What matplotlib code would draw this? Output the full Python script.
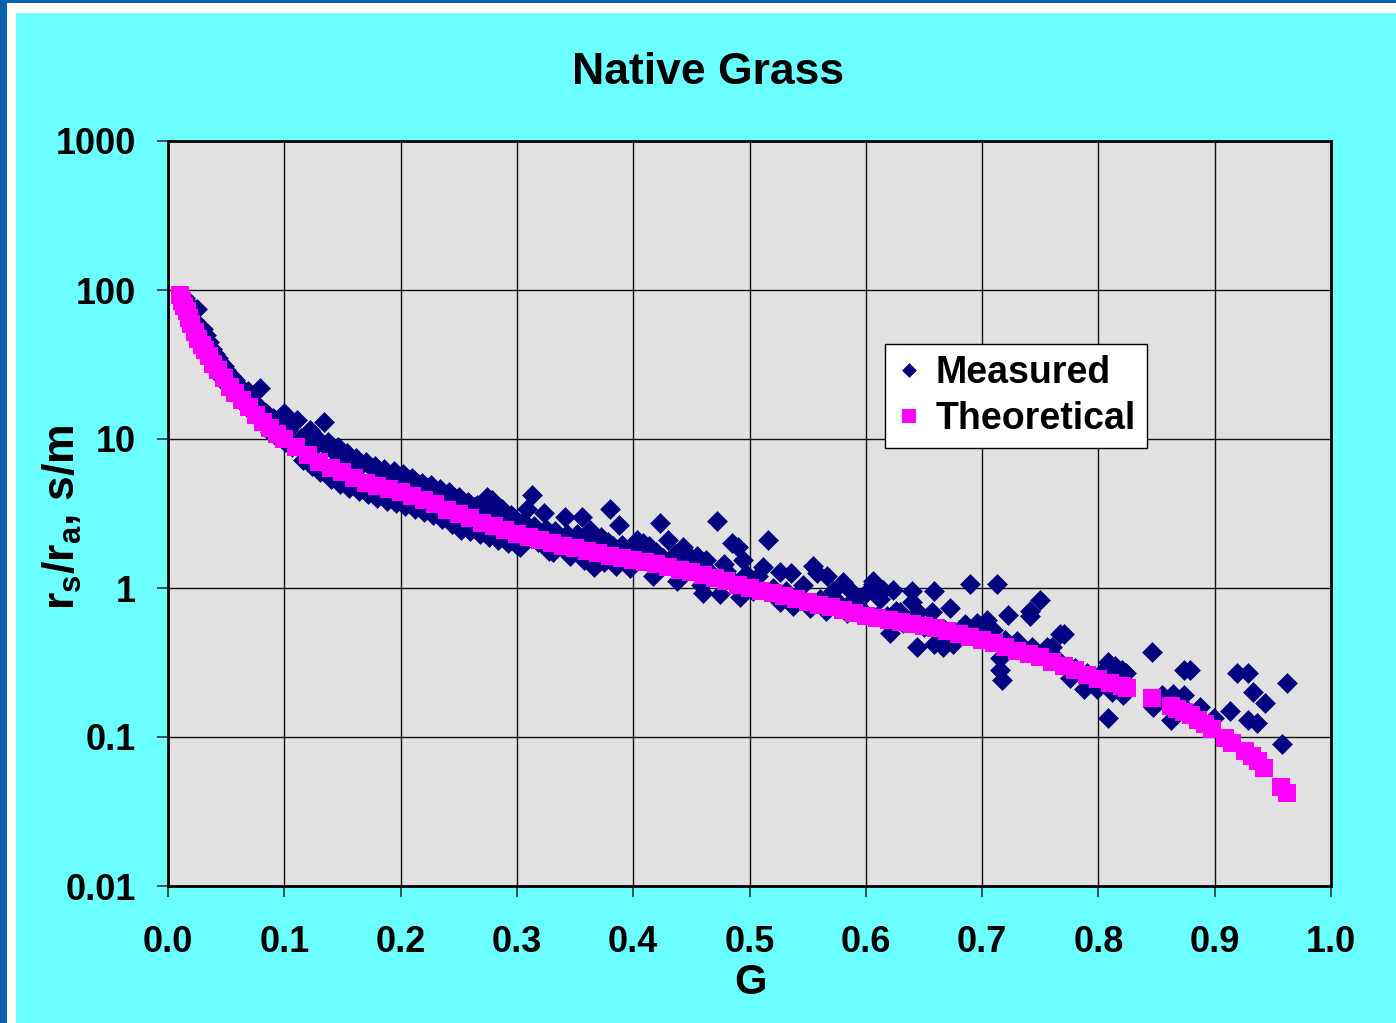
import matplotlib
matplotlib.use("Agg")
import matplotlib.pyplot as plt
from matplotlib.patches import Rectangle

# Measured rs/ra vs G
g_meas = [
    0.015, 0.018, 0.020, 0.022, 0.024, 0.025, 0.027, 0.029, 0.030, 0.032,
    0.033, 0.035, 0.036, 0.038, 0.040, 0.041, 0.043, 0.045, 0.046, 0.048,
    0.050, 0.051, 0.053, 0.055, 0.056, 0.058, 0.060, 0.061, 0.063, 0.065,
    0.066, 0.068, 0.069, 0.070, 0.071, 0.073, 0.075, 0.076, 0.079, 0.080,
    0.082, 0.084, 0.086, 0.088, 0.090, 0.092, 0.094, 0.096, 0.098, 0.100,
    0.101, 0.103, 0.105, 0.107,
    0.111, 0.114, 0.116, 0.119, 0.122, 0.124, 0.126, 0.129, 0.131, 0.134,
    0.136, 0.138, 0.140, 0.143, 0.146, 0.148, 0.151, 0.154, 0.156, 0.159,
    0.162, 0.164, 0.167, 0.170, 0.172, 0.175, 0.178, 0.180, 0.183, 0.186,
    0.188, 0.191, 0.194, 0.196, 0.199, 0.202, 0.204, 0.207, 0.210, 0.212,
    0.215, 0.218, 0.220, 0.223, 0.226, 0.228, 0.231, 0.234, 0.236, 0.239,
    0.242, 0.244, 0.247, 0.250, 0.252, 0.255, 0.258, 0.260, 0.263, 0.266,
    0.268, 0.271, 0.274, 0.276, 0.279, 0.282, 0.284, 0.287, 0.290, 0.292,
    0.295, 0.298, 0.300,
    0.303, 0.305, 0.309, 0.313, 0.315, 0.318, 0.323, 0.325, 0.328, 0.331,
    0.333, 0.336, 0.341, 0.343, 0.346, 0.349, 0.352, 0.356, 0.358, 0.360,
    0.363, 0.366, 0.369, 0.372, 0.375, 0.378, 0.380, 0.383, 0.385, 0.388,
    0.390, 0.393, 0.397, 0.400, 0.403, 0.408, 0.411, 0.414, 0.417, 0.420,
    0.423, 0.426, 0.430, 0.433, 0.436, 0.438, 0.441, 0.443, 0.447, 0.450,
    0.453, 0.455, 0.458, 0.460, 0.463, 0.465,
    0.468, 0.472, 0.475, 0.478, 0.480, 0.485, 0.487, 0.490, 0.492, 0.494,
    0.497, 0.500, 0.503, 0.507, 0.512, 0.516, 0.520, 0.526, 0.526, 0.531,
    0.536, 0.537, 0.541, 0.546, 0.552, 0.555, 0.558, 0.561, 0.566, 0.567,
    0.572, 0.576, 0.580, 0.584, 0.586, 0.590, 0.594, 0.598, 0.600, 0.606,
    0.606, 0.610, 0.612, 0.615, 0.618, 0.621, 0.623, 0.626,
    0.629, 0.632, 0.640, 0.640, 0.643, 0.644, 0.645, 0.650, 0.657, 0.659,
    0.659, 0.666, 0.668, 0.672, 0.675, 0.680, 0.685, 0.690, 0.693, 0.696,
    0.700, 0.704, 0.709, 0.713, 0.715, 0.715, 0.717, 0.720, 0.722, 0.730,
    0.735, 0.741, 0.741, 0.743, 0.750, 0.756, 0.760, 0.765, 0.767, 0.770,
    0.776, 0.780, 0.788, 0.790, 0.799, 0.805, 0.808, 0.808, 0.812, 0.814,
    0.820, 0.821, 0.824, 0.846, 0.847, 0.855, 0.862, 0.864, 0.870, 0.874,
    0.874, 0.879, 0.887, 0.899, 0.913, 0.919, 0.929, 0.929, 0.933, 0.936,
    0.943, 0.958, 0.962,
]
rr_meas = [
    88, 80, 70, 63, 58, 75, 52, 48, 55, 43,
    50, 45, 34, 40, 37, 29, 35, 33, 26, 31,
    29, 23, 27, 26, 21, 25, 23, 19, 22, 21,
    17, 20, 21, 19, 15.5, 18, 17.5, 14.2, 22, 16,
    12.8, 15, 14.5, 11.2, 13.8, 13.5, 10.3, 12.8, 12.0, 15,
    9.5, 11.5, 13.5, 8.8,
    13.4, 10.2, 7.2, 9.8, 11.5, 6.6, 9.0, 10.0, 6.0, 13.0,
    8.8, 9.5, 5.4, 8.2, 8.8, 5.0, 7.6, 8.0, 4.7, 7.2,
    7.5, 4.5, 6.8, 7.0, 4.3, 6.4, 6.6, 4.0, 6.0, 6.3,
    3.85, 5.7, 6.1, 3.7, 5.5, 5.8, 3.55, 5.2, 5.5, 3.4,
    5.0, 5.1, 3.25, 4.7, 4.9, 3.1, 4.5, 4.6, 2.9, 4.2,
    4.4, 2.7, 4.0, 4.1, 2.45, 3.7, 3.8, 2.4, 3.5, 3.6,
    2.3, 3.3, 4.1, 2.2, 3.9, 3.2, 2.1, 3.4, 3.0, 2.0,
    3.1, 2.9, 1.95,
    1.87, 2.8, 3.4, 4.2, 2.6, 2.05, 3.2, 2.5, 1.78, 1.75,
    2.4, 2.2, 3.0, 2.3, 1.63, 2.1, 2.3, 3.0, 1.55, 2.2,
    2.45, 1.38, 2.0, 2.2, 1.5, 2.05, 3.4, 1.9, 1.41, 2.65,
    1.95, 1.75, 1.36, 1.8, 2.1, 2.0, 1.65, 1.9, 1.2, 1.75,
    2.75, 1.6, 2.1, 1.5, 1.7, 1.12, 1.55, 1.87, 1.45, 1.6,
    1.35, 1.63, 1.05, 0.93, 1.54, 1.3,
    1.2, 2.8, 0.91, 1.45, 1.3, 2.0, 1.1, 1.87, 0.87, 1.54,
    1.25, 1.05, 0.95, 1.2, 1.39, 2.1, 1.0, 1.29, 0.80, 0.95,
    1.26, 0.76, 0.9, 1.05, 0.73, 1.41, 1.26, 0.85, 0.70, 1.21,
    0.95, 0.8, 1.1, 0.68, 0.97, 0.85, 0.75, 0.69, 0.92, 1.12,
    1.07, 0.65, 0.85, 0.97, 0.65, 0.50, 0.97, 0.7,
    0.69, 0.58, 0.95, 0.81, 0.60, 0.40, 0.69, 0.55, 0.69, 0.95,
    0.42, 0.40, 0.52, 0.73, 0.42, 0.5, 0.57, 1.07, 0.48, 0.58,
    0.5, 0.61, 0.52, 1.07, 0.34, 0.28, 0.24, 0.45, 0.66, 0.44,
    0.38, 0.70, 0.65, 0.40, 0.83, 0.40, 0.40, 0.33, 0.49, 0.49,
    0.25, 0.29, 0.21, 0.27, 0.21, 0.28, 0.32, 0.135, 0.20, 0.30,
    0.28, 0.19, 0.27, 0.37, 0.16, 0.19, 0.13, 0.195, 0.17, 0.28,
    0.19, 0.28, 0.16, 0.135, 0.15, 0.27, 0.27, 0.13, 0.20, 0.125,
    0.17, 0.09, 0.23,
]

# Theoretical curve
g_theo = [
    0.010, 0.012, 0.014, 0.016, 0.018, 0.020, 0.023, 0.026, 0.029, 0.032,
    0.035, 0.039, 0.043, 0.048, 0.053, 0.058, 0.064, 0.070, 0.076, 0.082,
    0.088, 0.094,
    0.10, 0.11, 0.12, 0.13, 0.14, 0.15, 0.16, 0.17, 0.18, 0.19,
    0.20, 0.21, 0.22, 0.23, 0.24, 0.25, 0.26, 0.27, 0.28, 0.29,
    0.30, 0.31, 0.32, 0.33, 0.34, 0.35, 0.36, 0.37, 0.38, 0.39,
    0.40, 0.41, 0.42, 0.43, 0.44, 0.45, 0.46, 0.47, 0.48, 0.49,
    0.50, 0.51, 0.52, 0.53, 0.54, 0.55, 0.56, 0.57, 0.58, 0.59,
    0.60, 0.61, 0.62, 0.63, 0.64, 0.65, 0.66, 0.67, 0.68, 0.69,
    0.70, 0.71, 0.72, 0.73, 0.74, 0.75, 0.76, 0.77, 0.78, 0.79,
    0.80, 0.81, 0.82, 0.825,
    0.846, 0.862, 0.868, 0.874, 0.880, 0.886, 0.892, 0.898,
    0.909, 0.915, 0.926, 0.932, 0.937, 0.942, 0.957, 0.962,
]
rr_theo = [
    92, 85, 78, 72, 65, 59, 52, 47, 43, 39.5,
    36, 32, 29, 25.5, 22.5, 20.5, 18.3, 16.3, 14.6, 13.0,
    11.8, 10.8,
    10.0, 8.8, 7.8, 7.0, 6.4, 6.0, 5.5, 5.1, 4.8, 4.6,
    4.4, 4.15, 3.9, 3.65, 3.35, 3.15, 2.95, 2.75, 2.6, 2.45,
    2.3, 2.2, 2.1, 2.0, 1.92, 1.85, 1.78, 1.72, 1.65, 1.6,
    1.55, 1.49, 1.44, 1.38, 1.33, 1.28, 1.22, 1.16, 1.11, 1.05,
    1.00, 0.96, 0.92, 0.88, 0.84, 0.805, 0.77, 0.74, 0.71, 0.68,
    0.65, 0.63, 0.61, 0.59, 0.575, 0.556, 0.535, 0.515, 0.495, 0.47,
    0.45, 0.425, 0.40, 0.38, 0.36, 0.344, 0.32, 0.30, 0.28, 0.26,
    0.245, 0.232, 0.22, 0.213,
    0.183, 0.162, 0.155, 0.148, 0.140, 0.131, 0.122, 0.113,
    0.098, 0.091, 0.080, 0.075, 0.069, 0.062, 0.046, 0.042,
]

y_ticks = [0.01, 0.1, 1, 10, 100, 1000]
y_labels = ["0.01", "0.1", "1", "10", "100", "1000"]
x_ticks = [0.0, 0.1, 0.2, 0.3, 0.4, 0.5, 0.6, 0.7, 0.8, 0.9, 1.0]

plt.rcParams['font.family'] = ['Liberation Sans', 'DejaVu Sans']
plt.rcParams['font.weight'] = 'bold'
plt.rcParams['mathtext.fontset'] = 'custom'
plt.rcParams['mathtext.rm'] = 'Liberation Sans:bold'
plt.rcParams['mathtext.it'] = 'Liberation Sans:bold'
plt.rcParams['mathtext.bf'] = 'Liberation Sans:bold'

W, H = 1396, 1023
fig = plt.figure(figsize=(W / 100, H / 100), dpi=100, facecolor='#0863AC')
# white inner frame and cyan chart area
fig.patches.append(Rectangle((7 / W, 0), 1, 1 - 3 / H, transform=fig.transFigure,
                             facecolor='white', edgecolor='none', zorder=-3))
fig.patches.append(Rectangle((16 / W, 0), 1, 1 - 13 / H, transform=fig.transFigure,
                             facecolor='#6BFFFF', edgecolor='none', zorder=-2))

ax = fig.add_axes([168 / W, 1 - 886 / H, (1331 - 168) / W, (886 - 141) / H])
ax.set_facecolor('#E1E1E1')

ax.plot(g_meas, rr_meas, linestyle='none', marker='D', markersize=10.2,
        color='#000080', markeredgewidth=0.4, label='Measured')
ax.plot(g_theo, rr_theo, linestyle='none', marker='s', markersize=13.5,
        color='#FF00FF', markeredgewidth=0, label='Theoretical')

ax.set_yscale('log')
ax.set_ylim(0.01, 1000)
ax.set_xlim(0, 1.0)
ax.set_yticks(y_ticks)
ax.set_yticklabels(y_labels)
ax.minorticks_off()
ax.set_xticks(x_ticks)
ax.set_xticklabels([f"{v:.1f}" for v in x_ticks])
ax.tick_params(axis='both', direction='out', length=8, width=1.2,
               labelsize=26, color='#333333')
ax.tick_params(axis='y', pad=15)
ax.tick_params(axis='x', pad=20)
ax.grid(True, color='#111111', linewidth=1.0)
ax.set_axisbelow(True)
for sp in ax.spines.values():
    sp.set_linewidth(2)
    sp.set_color('black')

leg = ax.legend(loc='upper left', bbox_to_anchor=(0.6165, 0.7275), borderaxespad=0,
                fancybox=False, framealpha=1, edgecolor='black', fontsize=27,
                markerscale=0.72, handlelength=0.7, handletextpad=0.35,
                borderpad=0.3, labelspacing=0.25)
leg.get_frame().set_linewidth(1)

fig.text(708 / W, 1 - 72 / H, 'Native Grass', ha='center', va='center',
         fontsize=32, fontweight='bold')
fig.text(750 / W, 1 - 983 / H, 'G', ha='center', va='center',
         fontsize=30, fontweight='bold')
fig.text(62 / W, 1 - 517 / H, r'r$_\mathregular{s}$/r$_\mathregular{a}$, s/m',
         ha='center', va='center', rotation=90, fontsize=32, fontweight='bold')

fig.savefig('out.png', dpi=100, facecolor=fig.get_facecolor())
